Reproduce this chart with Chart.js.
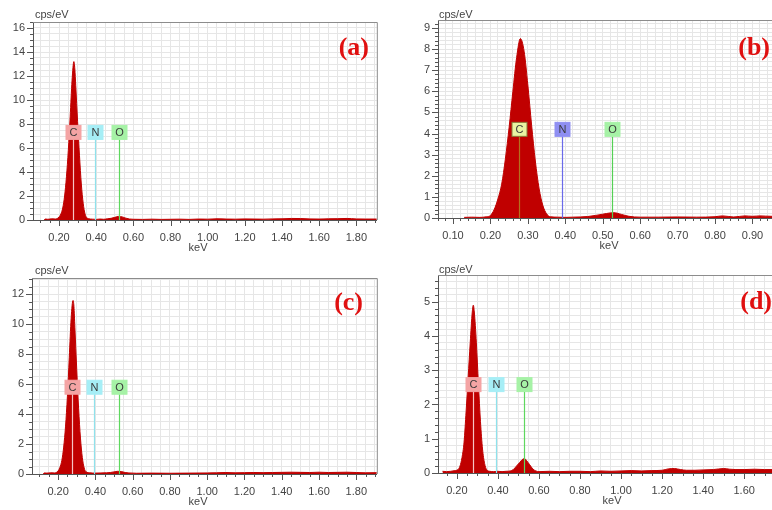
<!DOCTYPE html>
<html>
<head>
<meta charset="utf-8">
<script src="https://cdn.jsdelivr.net/npm/chart.js@4.4.0/dist/chart.umd.min.js"></script>
<style>
  html, body { margin: 0; padding: 0; background: #fff; overflow: hidden; }
  #wrap { position: relative; width: 772px; height: 510px; overflow: hidden; background: #fff; }
  .panel { position: absolute; }
</style>
</head>
<body>
<div id="wrap">
  <canvas id="chartA" class="panel" width="386" height="255" style="left:0;top:0"></canvas>
  <canvas id="chartB" class="panel" width="400" height="255" style="left:386px;top:0"></canvas>
  <canvas id="chartC" class="panel" width="386" height="255" style="left:0;top:255px"></canvas>
  <canvas id="chartD" class="panel" width="400" height="255" style="left:386px;top:255px"></canvas>
</div>
<script>
// element markers (keV)
const lineElements = ['C', 'N', 'O'];
const lineEnergies = [0.277, 0.392, 0.525];

// (a) spectrum
const energyA = [0.12, 0.125, 0.14, 0.16, 0.18, 0.19, 0.20, 0.21, 0.22, 0.23, 0.24, 0.25, 0.26, 0.27, 0.28, 0.285, 0.29, 0.30, 0.31, 0.32, 0.33, 0.34, 0.35, 0.36, 0.38, 0.40, 0.42, 0.44, 0.46, 0.48, 0.50, 0.52, 0.54, 0.56, 0.58, 0.60, 0.65, 0.70, 0.75, 0.80, 0.85, 0.90, 0.95, 1.00, 1.05, 1.10, 1.15, 1.20, 1.25, 1.30, 1.35, 1.40, 1.45, 1.50, 1.55, 1.60, 1.65, 1.70, 1.75, 1.80, 1.85, 1.91];
const countsA = [0, 0.08, 0.06, 0.1, 0.08, 0.12, 0.25, 0.5, 1.0, 2.0, 3.6, 5.8, 8.6, 11.6, 13.2, 12.6, 11.2, 8.2, 5.4, 3.0, 1.4, 0.5, 0.18, 0.1, 0.07, 0.05, 0.08, 0.06, 0.1, 0.14, 0.22, 0.3, 0.26, 0.15, 0.08, 0.06, 0.05, 0.07, 0.05, 0.06, 0.07, 0.05, 0.08, 0.07, 0.1, 0.08, 0.07, 0.09, 0.08, 0.07, 0.09, 0.1, 0.13, 0.12, 0.09, 0.08, 0.1, 0.11, 0.13, 0.09, 0.08, 0.08];
const xLabelsA = ['0.20', '0.40', '0.60', '0.80', '1.00', '1.20', '1.40', '1.60', '1.80'];
const yLabelsA = ['0', '2', '4', '6', '8', '10', '12', '14', '16'];

// (b) spectrum
const energyB = [0.13, 0.15, 0.17, 0.19, 0.20, 0.21, 0.22, 0.23, 0.24, 0.25, 0.26, 0.27, 0.28, 0.29, 0.30, 0.31, 0.32, 0.33, 0.34, 0.35, 0.36, 0.38, 0.40, 0.42, 0.44, 0.46, 0.48, 0.50, 0.52, 0.53, 0.55, 0.57, 0.60, 0.65, 0.70, 0.75, 0.80, 0.82, 0.85, 0.88, 0.90, 0.92, 0.95, 0.97];
const countsB = [0.03, 0.04, 0.03, 0.06, 0.12, 0.4, 0.9, 1.6, 2.8, 4.3, 6.0, 7.6, 8.5, 7.9, 6.3, 4.4, 2.7, 1.4, 0.6, 0.2, 0.06, 0.04, 0.03, 0.04, 0.05, 0.07, 0.12, 0.18, 0.24, 0.25, 0.17, 0.08, 0.04, 0.04, 0.05, 0.04, 0.06, 0.1, 0.05, 0.1, 0.08, 0.1, 0.08, 0.09];
const xLabelsB = ['0.10', '0.20', '0.30', '0.40', '0.50', '0.60', '0.70', '0.80', '0.90'];
const yLabelsB = ['0', '1', '2', '3', '4', '5', '6', '7', '8', '9'];

// (c) spectrum
const energyC = [0.12, 0.125, 0.14, 0.16, 0.18, 0.19, 0.20, 0.21, 0.22, 0.23, 0.24, 0.25, 0.26, 0.27, 0.28, 0.285, 0.29, 0.30, 0.31, 0.32, 0.33, 0.34, 0.35, 0.37, 0.40, 0.43, 0.46, 0.48, 0.50, 0.52, 0.54, 0.56, 0.58, 0.62, 0.70, 0.80, 0.90, 1.00, 1.05, 1.10, 1.15, 1.20, 1.25, 1.30, 1.35, 1.40, 1.45, 1.50, 1.55, 1.60, 1.65, 1.70, 1.75, 1.80, 1.85, 1.91];
const countsC = [0, 0.07, 0.06, 0.08, 0.07, 0.1, 0.2, 0.45, 0.9, 1.8, 3.2, 5.2, 7.8, 10.4, 11.6, 11.2, 9.8, 7.0, 4.4, 2.4, 1.1, 0.4, 0.15, 0.08, 0.06, 0.07, 0.08, 0.1, 0.14, 0.18, 0.16, 0.1, 0.07, 0.05, 0.06, 0.05, 0.06, 0.07, 0.08, 0.1, 0.08, 0.09, 0.1, 0.09, 0.1, 0.11, 0.12, 0.11, 0.1, 0.12, 0.1, 0.11, 0.12, 0.1, 0.08, 0.09];
const xLabelsC = ['0.20', '0.40', '0.60', '0.80', '1.00', '1.20', '1.40', '1.60', '1.80'];
const yLabelsC = ['0', '2', '4', '6', '8', '10', '12'];

// (d) spectrum
const energyD = [0.13, 0.15, 0.17, 0.19, 0.205, 0.215, 0.225, 0.235, 0.245, 0.255, 0.265, 0.275, 0.28, 0.285, 0.295, 0.305, 0.315, 0.325, 0.335, 0.345, 0.36, 0.38, 0.40, 0.42, 0.44, 0.46, 0.475, 0.49, 0.505, 0.52, 0.53, 0.54, 0.555, 0.57, 0.585, 0.60, 0.65, 0.70, 0.75, 0.80, 0.85, 0.90, 0.95, 1.00, 1.05, 1.10, 1.15, 1.20, 1.23, 1.26, 1.29, 1.32, 1.36, 1.40, 1.45, 1.50, 1.53, 1.56, 1.60, 1.65, 1.70, 1.77];
const countsD = [0.05, 0.04, 0.05, 0.07, 0.1, 0.2, 0.45, 0.9, 1.8, 2.8, 3.8, 4.7, 4.9, 4.7, 3.8, 2.6, 1.5, 0.7, 0.28, 0.1, 0.05, 0.04, 0.05, 0.04, 0.05, 0.06, 0.1, 0.2, 0.3, 0.4, 0.42, 0.36, 0.24, 0.12, 0.06, 0.04, 0.05, 0.04, 0.05, 0.05, 0.04, 0.06, 0.05, 0.06, 0.07, 0.06, 0.07, 0.08, 0.12, 0.13, 0.1, 0.08, 0.08, 0.09, 0.1, 0.13, 0.11, 0.1, 0.1, 0.11, 0.1, 0.1];
const xLabelsD = ['0.20', '0.40', '0.60', '0.80', '1.00', '1.20', '1.40', '1.60'];
const yLabelsD = ['0', '1', '2', '3', '4', '5'];

const pinkSet = {
    box: ['#f4a4a4', '#a6eef6', '#a6f2a6'],
    edge: ['#f4a4a4', '#a6eef6', '#a6f2a6'],
    line: ['#f6c4c4', '#8ee2ec', '#5ed85e']
};
const blueSet = {
    box: ['#e9f4a2', '#8f8ff2', '#a6f2a6'],
    edge: ['#8a7b3a', '#8f8ff2', '#a6f2a6'],
    line: ['#b5701e', '#6a6aea', '#55d055']
};

const textColor = '#444';
const fontName = "'Liberation Sans', Arial, sans-serif";

function isMajor(v, labels) {
    return labels.some(l => Math.abs(parseFloat(l) - v) < 1e-6);
}

function minorTicks(min, max, step) {
    const out = [];
    let i = Math.ceil(min / step - 1e-6);
    while (i * step <= max + 1e-9) {
        out.push({ value: Math.round(i * step * 1000) / 1000 });
        i++;
    }
    return out;
}

function makePanel(id, cfg) {
    const decor = {
        id: 'decor' + id,
        afterDatasetsDraw(chart) {
            const ctx = chart.ctx;
            const xs = chart.scales.x, ys = chart.scales.y;
            const zero = ys.getPixelForValue(0);
            lineEnergies.forEach((e, i) => {
                const px = Math.round(xs.getPixelForValue(e)) + 0.5;
                const cy = ys.getPixelForValue(cfg.markerAt);
                ctx.save();
                ctx.strokeStyle = cfg.colors.line[i];
                ctx.lineWidth = 1.2;
                ctx.beginPath();
                ctx.moveTo(px, cy + cfg.boxH / 2);
                ctx.lineTo(px, zero);
                ctx.stroke();
                ctx.fillStyle = cfg.colors.box[i];
                ctx.fillRect(px - cfg.boxW / 2, cy - cfg.boxH / 2, cfg.boxW, cfg.boxH);
                ctx.strokeStyle = cfg.colors.edge[i];
                ctx.lineWidth = 1;
                ctx.strokeRect(px - cfg.boxW / 2, cy - cfg.boxH / 2, cfg.boxW, cfg.boxH);
                ctx.fillStyle = '#3a3a3a';
                ctx.font = '11px ' + fontName;
                ctx.textAlign = 'center';
                ctx.textBaseline = 'middle';
                ctx.fillText(lineElements[i], px, cy + 0.5);
                ctx.restore();
            });
        },
        afterDraw(chart) {
            const ctx = chart.ctx;
            const a = chart.chartArea;
            const xs = chart.scales.x, ys = chart.scales.y;
            ctx.save();
            // frame top / right
            ctx.strokeStyle = '#8c8c8c';
            ctx.lineWidth = 1;
            ctx.beginPath();
            ctx.moveTo(a.left, a.top + 0.5);
            ctx.lineTo(a.right + 0.5, a.top + 0.5);
            ctx.lineTo(a.right + 0.5, a.bottom);
            ctx.stroke();
            // tick marks
            ctx.strokeStyle = '#555';
            ctx.beginPath();
            xs.ticks.forEach(t => {
                const px = Math.round(xs.getPixelForValue(t.value)) + 0.5;
                const len = isMajor(t.value, cfg.xLabels) ? 6 : 3;
                ctx.moveTo(px, a.bottom);
                ctx.lineTo(px, a.bottom + len);
            });
            ys.ticks.forEach(t => {
                const py = Math.round(ys.getPixelForValue(t.value)) + 0.5;
                const len = isMajor(t.value, cfg.yLabels) ? 6 : 3;
                ctx.moveTo(a.left, py);
                ctx.lineTo(a.left - len, py);
            });
            ctx.stroke();
            // texts
            ctx.fillStyle = textColor;
            ctx.font = '11px ' + fontName;
            ctx.textBaseline = 'middle';
            ctx.textAlign = 'left';
            ctx.fillText('cps/eV', cfg.unitX, cfg.unitY);
            ctx.textAlign = 'center';
            ctx.fillText('keV', cfg.keVX, a.bottom + 28);
            ctx.fillStyle = '#e01010';
            ctx.font = "bold 26px 'Liberation Serif', 'Times New Roman', serif";
            ctx.textAlign = 'right';
            ctx.fillText(cfg.tag, cfg.tagX, cfg.tagY);
            ctx.restore();
        }
    };

    return new Chart(document.getElementById(id), {
        type: 'line',
        data: {
            datasets: [{
                data: cfg.energy.map((e, i) => ({ x: e, y: cfg.counts[i] })),
                borderColor: '#c00000',
                backgroundColor: '#c00000',
                borderWidth: 1,
                pointRadius: 0,
                fill: 'origin',
                cubicInterpolationMode: 'monotone'
            }]
        },
        options: {
            responsive: false,
            animation: false,
            events: [],
            layout: { padding: { top: cfg.top, right: cfg.right, left: 0, bottom: 0 } },
            plugins: { legend: { display: false }, tooltip: { enabled: false } },
            scales: {
                x: {
                    type: 'linear',
                    min: cfg.xMin,
                    max: cfg.xMax,
                    afterBuildTicks: s => { s.ticks = minorTicks(cfg.xMin, cfg.xMax, cfg.xStep); },
                    afterFit: s => { s.height = 255 - cfg.bottom; },
                    grid: { color: '#e6e6e6', lineWidth: 1, drawTicks: false },
                    border: { color: '#555', width: 1 },
                    ticks: {
                        autoSkip: false,
                        maxRotation: 0,
                        padding: 11,
                        color: textColor,
                        font: { family: fontName, size: 11 },
                        callback: v => isMajor(v, cfg.xLabels) ? cfg.xLabels.find(l => Math.abs(parseFloat(l) - v) < 1e-6) : ''
                    }
                },
                y: {
                    min: 0,
                    max: cfg.yMax,
                    afterBuildTicks: s => { s.ticks = minorTicks(0, cfg.yMax, cfg.yStep); },
                    afterFit: s => { s.width = cfg.left; },
                    grid: { color: '#e6e6e6', lineWidth: 1, drawTicks: false },
                    border: { color: '#555', width: 1 },
                    ticks: {
                        autoSkip: false,
                        padding: 8,
                        color: textColor,
                        font: { family: fontName, size: 11 },
                        callback: v => isMajor(v, cfg.yLabels) ? cfg.yLabels.find(l => Math.abs(parseFloat(l) - v) < 1e-6) : ''
                    }
                }
            }
        },
        plugins: [decor]
    });
}

makePanel('chartA', {
    energy: energyA, counts: countsA, xLabels: xLabelsA, yLabels: yLabelsA,
    xMin: 0.06, xMax: 1.91, xStep: 0.05, yMax: 16.5, yStep: 0.5,
    top: 22, right: 8, left: 33, bottom: 220,
    markerAt: 7.3, boxW: 15, boxH: 14, colors: pinkSet,
    unitX: 35, unitY: 15, keVX: 198, tag: '(a)', tagX: 369, tagY: 48
});
makePanel('chartB', {
    energy: energyB, counts: countsB, xLabels: xLabelsB, yLabels: yLabelsB,
    xMin: 0.06, xMax: 0.968, xStep: 0.02, yMax: 9.38, yStep: 0.2,
    top: 20, right: 6, left: 52, bottom: 218,
    markerAt: 4.2, boxW: 15, boxH: 14, colors: blueSet,
    unitX: 53, unitY: 15, keVX: 223, tag: '(b)', tagX: 384, tagY: 48
});
makePanel('chartC', {
    energy: energyC, counts: countsC, xLabels: xLabelsC, yLabels: yLabelsC,
    xMin: 0.06, xMax: 1.91, xStep: 0.05, yMax: 13.1, yStep: 0.5,
    top: 23, right: 8, left: 32, bottom: 219,
    markerAt: 5.8, boxW: 15, boxH: 14, colors: pinkSet,
    unitX: 35, unitY: 16, keVX: 198, tag: '(c)', tagX: 363, tagY: 48
});
makePanel('chartD', {
    energy: energyD, counts: countsD, xLabels: xLabelsD, yLabels: yLabelsD,
    xMin: 0.108, xMax: 1.765, xStep: 0.05, yMax: 5.78, yStep: 0.2,
    top: 20, right: 6, left: 52, bottom: 218,
    markerAt: 2.58, boxW: 15, boxH: 14, colors: pinkSet,
    unitX: 53, unitY: 15, keVX: 226, tag: '(d)', tagX: 386, tagY: 47
});
</script>
</body>
</html>
